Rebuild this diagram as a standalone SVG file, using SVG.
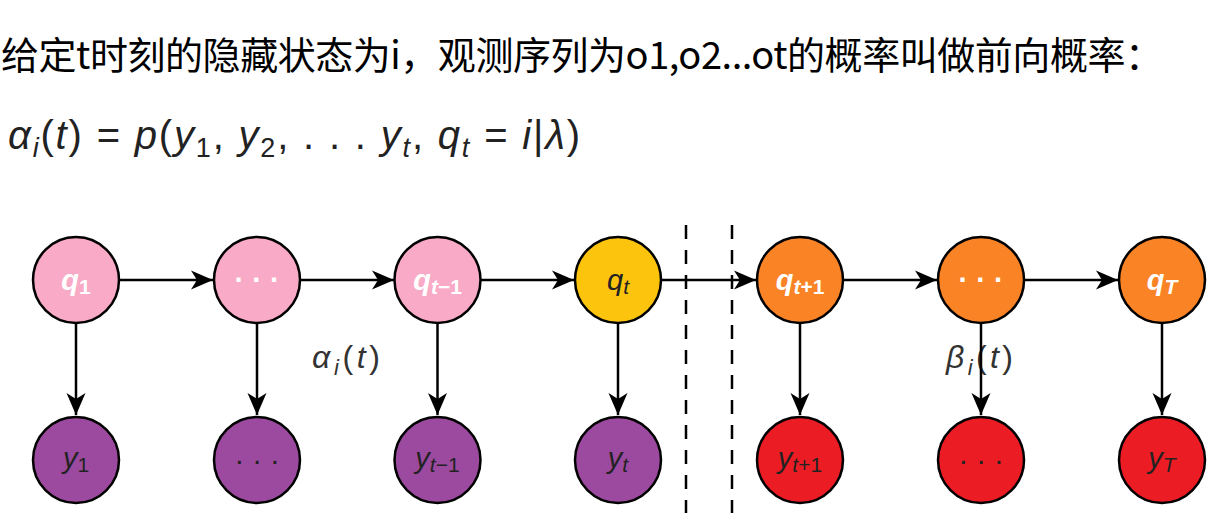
<svg xmlns="http://www.w3.org/2000/svg" width="1211" height="513" viewBox="0 0 1211 513">
<style>
.hd{font-family:"Noto Sans CJK SC","Noto Sans",sans-serif;font-size:38px;fill:#000}
.fm{font-family:"Liberation Sans",Arial,sans-serif;font-size:40px;fill:#222}
.it{font-style:italic}
.lab{font-family:"Liberation Sans",Arial,sans-serif;font-size:32px;fill:#333}
.nl{font-family:"Liberation Sans",Arial,sans-serif;font-size:29px;text-anchor:middle}
.w{fill:#fff;font-weight:bold}
.d{fill:#222}
.c{stroke:#000;stroke-width:2.5}
.pink{fill:#F8AAC6}
.yel{fill:#FDC40E}
.org{fill:#F98325}
.pur{fill:#9C4A9F}
.red{fill:#EC1C24}
.ln{stroke:#000;stroke-width:2.5;fill:none}
.dash{stroke:#000;stroke-width:2.5;stroke-dasharray:14 11;fill:none}
</style>
<defs>
<marker id="ah" markerUnits="userSpaceOnUse" markerWidth="26" markerHeight="22" viewBox="-24 -11 26 22" refX="0" refY="0" orient="auto">
<path d="M0,0 L-22,-9.5 L-16,0 L-22,9.5 Z" fill="#000"/>
</marker>
</defs>
<rect width="1211" height="513" fill="#fff"/>
<text class="hd" x="1" y="69" textLength="1162" lengthAdjust="spacing">给定t时刻的隐藏状态为i，观测序列为o1,o2...ot的概率叫做前向概率：</text>
<text class="fm" x="8" y="149" textLength="572" lengthAdjust="spacing"><tspan class="it">α</tspan><tspan class="it" font-size="27" dy="8">i</tspan><tspan dy="-8">(</tspan><tspan class="it">t</tspan><tspan>) = </tspan><tspan class="it">p</tspan><tspan>(</tspan><tspan class="it">y</tspan><tspan font-size="27" dy="8">1</tspan><tspan dy="-8">, </tspan><tspan class="it">y</tspan><tspan font-size="27" dy="8">2</tspan><tspan dy="-8">, . . . </tspan><tspan class="it">y</tspan><tspan class="it" font-size="27" dy="8">t</tspan><tspan dy="-8">, </tspan><tspan class="it">q</tspan><tspan class="it" font-size="27" dy="8">t</tspan><tspan dy="-8"> = </tspan><tspan class="it">i</tspan><tspan>|</tspan><tspan class="it">λ</tspan><tspan>)</tspan></text>
<text class="lab" x="312" y="368" textLength="68" lengthAdjust="spacing"><tspan class="it">α</tspan><tspan class="it" font-size="22" dy="7">i</tspan><tspan dy="-7">(</tspan><tspan class="it">t</tspan><tspan>)</tspan></text>
<text class="lab" x="946" y="368" fill="#555" textLength="67" lengthAdjust="spacing"><tspan class="it">β</tspan><tspan class="it" font-size="22" dy="7">i</tspan><tspan dy="-7">(</tspan><tspan class="it">t</tspan><tspan>)</tspan></text>
<g id="n-q1"><circle class="c pink" cx="76" cy="280" r="43"/><text class="nl w" x="76" y="290"><tspan class="it">q</tspan><tspan font-size="21" dy="4">1</tspan></text></g>
<g id="n-q2"><circle class="c pink" cx="257" cy="280" r="43"/><text class="nl w" x="257" y="290">· · ·</text></g>
<g id="n-qt-1"><circle class="c pink" cx="437.5" cy="280" r="43"/><text class="nl w" x="437.5" y="290"><tspan class="it">q</tspan><tspan font-size="21" dy="4"><tspan class="it">t</tspan>−1</tspan></text></g>
<g id="n-qt"><circle class="c yel" cx="618" cy="280" r="43"/><text class="nl d" x="618" y="290"><tspan class="it">q</tspan><tspan class="it" font-size="21" dy="4">t</tspan></text></g>
<g id="n-qt+1"><circle class="c org" cx="800" cy="280" r="43"/><text class="nl w" x="800" y="290"><tspan class="it">q</tspan><tspan font-size="21" dy="4"><tspan class="it">t</tspan>+1</tspan></text></g>
<g id="n-q6"><circle class="c org" cx="981" cy="280" r="43"/><text class="nl w" x="981" y="290">· · ·</text></g>
<g id="n-qT"><circle class="c org" cx="1162" cy="280" r="43"/><text class="nl w" x="1162" y="290"><tspan class="it">q</tspan><tspan class="it" font-size="21" dy="4">T</tspan></text></g>
<g id="n-y1"><circle class="c pur" cx="76" cy="460" r="43"/><text class="nl d" x="76" y="468"><tspan class="it">y</tspan><tspan font-size="21" dy="4">1</tspan></text></g>
<g id="n-y2"><circle class="c pur" cx="257" cy="460" r="43"/><text class="nl d" x="257" y="470">· · ·</text></g>
<g id="n-yt-1"><circle class="c pur" cx="437.5" cy="460" r="43"/><text class="nl d" x="437.5" y="468"><tspan class="it">y</tspan><tspan font-size="21" dy="4"><tspan class="it">t</tspan>−1</tspan></text></g>
<g id="n-yt"><circle class="c pur" cx="618" cy="460" r="43"/><text class="nl d" x="618" y="468"><tspan class="it">y</tspan><tspan class="it" font-size="21" dy="4">t</tspan></text></g>
<g id="n-yt+1"><circle class="c red" cx="800" cy="460" r="43"/><text class="nl d" x="800" y="468"><tspan class="it">y</tspan><tspan font-size="21" dy="4"><tspan class="it">t</tspan>+1</tspan></text></g>
<g id="n-y6"><circle class="c red" cx="981" cy="460" r="43"/><text class="nl d" x="981" y="470">· · ·</text></g>
<g id="n-yT"><circle class="c red" cx="1162" cy="460" r="43"/><text class="nl d" x="1162" y="468"><tspan class="it">y</tspan><tspan class="it" font-size="21" dy="4">T</tspan></text></g>
<g id="connectors">
<path class="ln" d="M119,280H213" marker-end="url(#ah)"/>
<path class="ln" d="M300,280H394" marker-end="url(#ah)"/>
<path class="ln" d="M480.5,280H574" marker-end="url(#ah)"/>
<path class="ln" d="M661,280H756" marker-end="url(#ah)"/>
<path class="ln" d="M843,280H937" marker-end="url(#ah)"/>
<path class="ln" d="M1024,280H1118" marker-end="url(#ah)"/>
<path class="ln" d="M76,323V415" marker-end="url(#ah)"/>
<path class="ln" d="M257,323V415" marker-end="url(#ah)"/>
<path class="ln" d="M437.5,323V415" marker-end="url(#ah)"/>
<path class="ln" d="M618,323V415" marker-end="url(#ah)"/>
<path class="ln" d="M800,323V415" marker-end="url(#ah)"/>
<path class="ln" d="M981,323V415" marker-end="url(#ah)"/>
<path class="ln" d="M1162,323V415" marker-end="url(#ah)"/>
<path class="dash" d="M686,225V513"/>
<path class="dash" d="M732,225V513"/>
</g>
</svg>
